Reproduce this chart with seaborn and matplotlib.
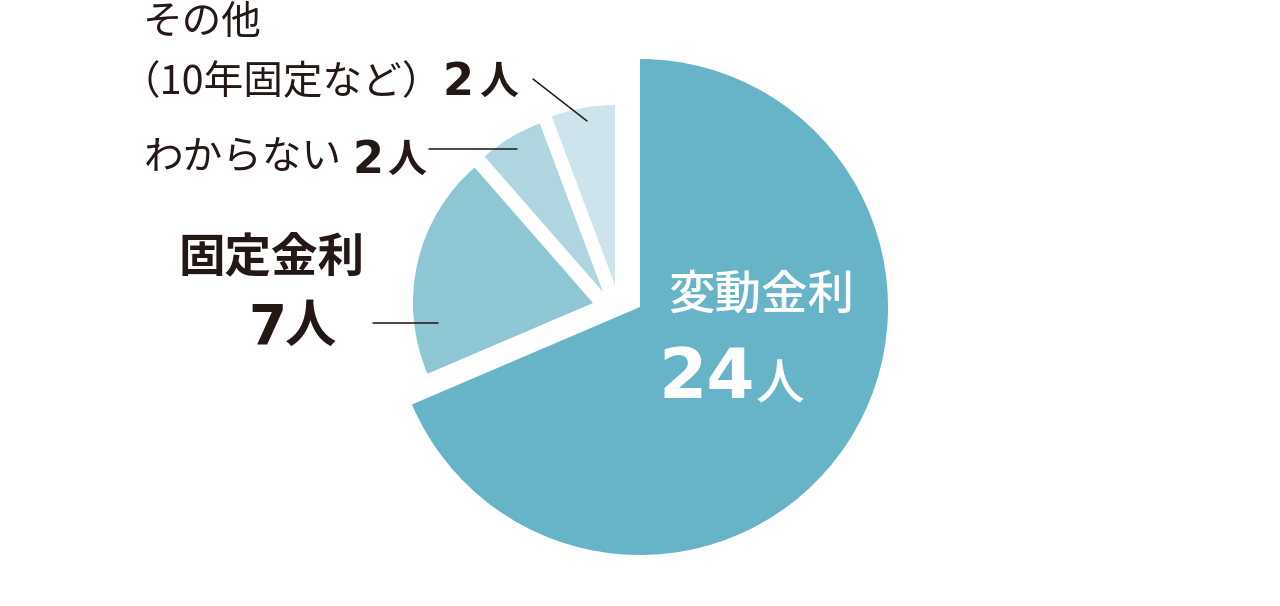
import matplotlib
matplotlib.use("Agg")
import matplotlib.pyplot as plt
import seaborn as sns

# data
categories = ["変動金利", "固定金利", "わからない", "その他\n（10年固定など）"]
counts = [24, 7, 2, 2]
colors = ["#67b4c8", "#8fc6d4", "#aed5e0", "#cde4ec"]

W, H = 1280, 606
INK = "#231815"

sns.set_theme(style="white")
plt.rcParams["font.family"] = ["Noto Sans CJK JP", "DejaVu Sans"]
NUM = ["DejaVu Sans"]

fig = plt.figure(figsize=(W / 100, H / 100), dpi=100)
ax = fig.add_axes([0, 0, 1, 1])


def Y(y):
    # y measured from the top edge -> data y
    return H - y


cx, cy = 640, Y(307)
wedges, _ = ax.pie(counts, colors=colors, startangle=90, counterclock=False,
                   radius=248, center=(cx, cy), wedgeprops=dict(linewidth=0))

# smaller, shifted wedges for the minority answers
shifts = {1: (-47, 4), 2: (-37, 15), 3: (-25, 22)}
for i, (dx, dy) in shifts.items():
    wedges[i].set_radius(180)
    wedges[i].set_center((cx + dx, cy + dy))

ax.set_xlim(0, W)
ax.set_ylim(0, H)
ax.set_aspect("auto")
ax.axis("off")

# leader lines
for (x0, y0), (x1, y1) in [((533, 79), (587, 121)),
                           ((429, 149), (517, 149)),
                           ((373, 323), (438, 323))]:
    ax.plot([x0, x1], [Y(y0), Y(y1)], color=INK, lw=1.1)

kw = dict(va="baseline", ha="left")

# その他
ax.text(143, Y(34), "その他", fontsize=28.5, color=INK, **kw)
ax.text(121, Y(94), "（10年固定など）", fontsize=28.5, color=INK, **kw)
ax.text(442, Y(95), str(counts[3]), fontsize=32, fontweight="bold", family=NUM, color=INK, **kw)
ax.text(479, Y(94), "人", fontsize=28, fontweight="bold", color=INK, **kw)

# わからない
ax.text(144, Y(170), "わからない", fontsize=28.5, color=INK, **kw)
ax.text(352, Y(173), str(counts[2]), fontsize=32, fontweight="bold", family=NUM, color=INK, **kw)
ax.text(387, Y(172), "人", fontsize=28, fontweight="bold", color=INK, **kw)

# 固定金利
ax.text(178, Y(272), "固定金利", fontsize=33.5, fontweight="bold", color=INK, **kw)
ax.text(248, Y(343), str(counts[1]), fontsize=39.5, fontweight="bold", family=NUM, color=INK, **kw)
ax.text(285, Y(342), "人", fontsize=37, fontweight="bold", color=INK, **kw)

# 変動金利
ax.text(668, Y(309), "変動金利", fontsize=33.5, fontweight="medium", color="white", **kw)
ax.text(658, Y(398), str(counts[0]), fontsize=50, fontweight="bold", family=NUM, color="white", **kw)
ax.text(756, Y(399), "人", fontsize=35, fontweight="medium", color="white", **kw)

fig.savefig("out.png", dpi=100, facecolor="white")
